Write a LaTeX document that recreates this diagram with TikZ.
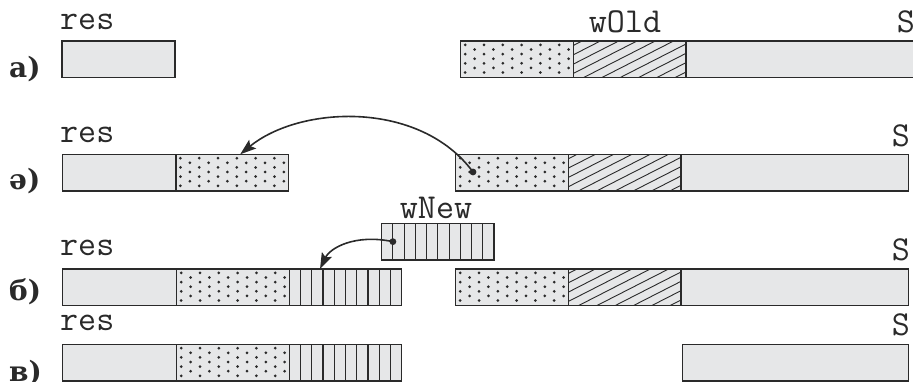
\documentclass[tikz,border=0pt]{standalone}
\usepackage{fontspec}
\newfontfamily\labelfont{DejaVu Serif}
\usetikzlibrary{calc,arrows.meta}

\definecolor{segfill}{HTML}{E6E7E8}
\definecolor{ink}{HTML}{2A2A2A}

\tikzset{
  seg/.style={rectangle, draw=ink, fill=segfill, line width=1.2pt,
    inner sep=0pt, outer sep=0pt, anchor=north west,
    minimum height=36.7pt, minimum width=#1},
  seg/.default=112.6pt,
  % staggered dot texture
  dotseg/.style={seg=#1, path picture={
      \foreach \c in {0,2,...,10}{
        \foreach \r in {0,...,3}
          \fill[ink] ($(path picture bounding box.north west)+(4.5+9.4*\c,3.9+9.2*\r)$) circle (1.5pt);}
      \foreach \c in {1,3,...,11}{
        \foreach \r in {0,...,2}
          \fill[ink] ($(path picture bounding box.north west)+(4.5+9.4*\c,8.5+9.2*\r)$) circle (1.5pt);}
    }},
  dotseg/.default=112.6pt,
  % diagonal hatching
  hatchseg/.style={seg=#1, path picture={
      \foreach \k in {-4,...,6}
        \draw[ink, line width=0.9pt] ($(path picture bounding box.south west)+(10+18.3*\k,0)$) -- ++(72,-36.7);
    }},
  hatchseg/.default=112.6pt,
  % vertical stripes
  stripeseg/.style={seg=#1, path picture={
      \foreach \k in {1,...,9}
        \draw[ink, line width=1.1pt] ($(path picture bounding box.north west)+(11.24*\k,0)$) -- ++(0,36.7);
    }},
  stripeseg/.default=112.4pt,
  varname/.style={font=\ttfamily\fontsize{35}{35}\selectfont, inner sep=0pt, text=ink},
  rowlabel/.style={font=\labelfont\bfseries\fontsize{28}{28}\selectfont, inner sep=0pt, anchor=base west, text=ink},
  link/.style={draw=ink, line width=1.6pt, -{Stealth[length=16pt,width=11pt,inset=3pt]}},
  srcdot/.style={fill=ink},
}

\begin{document}
\begin{tikzpicture}[x=1pt, y=-1pt]
\useasboundingbox (0,0) rectangle (913,382);

% ---- row a: the starting state
\node[rowlabel] (la) at (9,78) {а)};
\node[varname, anchor=base west] (resa) at (60,30) {res};
\node[seg=113pt] (ga) at (62,41) {};
\node[dotseg] (da) at (460.7,41) {};
\node[hatchseg] (ha) at (da.north east) {};
\node[seg=227.2pt] (sa) at (ha.north east) {};
\node[varname, anchor=base] (wold) at (625,33) {wOld};
\node[varname, anchor=base east] (Sa) at (915,33) {S};

% ---- row ә: prefix copied into res
\node[rowlabel] (lb) at (9,190) {ә)};
\node[varname, anchor=base west] (resb) at (60,143) {res};
\node[seg=113.6pt] (gb) at (62.3,154.3) {};
\node[dotseg] (db) at (gb.north east) {};
\node[dotseg] (dbr) at (455.7,154.3) {};
\node[hatchseg] (hb) at (dbr.north east) {};
\node[seg=227.4pt] (sb) at (hb.north east) {};
\node[varname, anchor=base east] (Sb) at (910,147) {S};
\coordinate (srcb) at ($(dbr.north west)+(17.3,17.7)$);
\coordinate (dstb) at ($(db.north west)+(64.3,0)$);
\draw[link] (srcb) .. controls +(-53,-72) and +(60,-49) .. (dstb);
\fill[srcdot] (srcb) circle (3.4pt);

% ---- row б: wNew appended to res
\node[rowlabel] (lc) at (9,300) {б)};
\node[varname, anchor=base west] (resc) at (60,255) {res};
\node[seg=114.4pt] (gc) at (62.3,269) {};
\node[dotseg] (dc) at (gc.north east) {};
\node[stripeseg] (tc) at (dc.north east) {};
\node[stripeseg=112.3pt] (wn) at (381.7,223.3) {};
\node[varname, anchor=base] (wnew) at (436,219) {wNew};
\node[dotseg] (dcr) at (455.7,269) {};
\node[hatchseg] (hc) at (dcr.north east) {};
\node[seg=227.4pt] (sc) at (hc.north east) {};
\node[varname, anchor=base east] (Sc) at (910,260) {S};
\coordinate (srcc) at ($(wn.west)+(11.2,0)$);
\coordinate (dstc) at ($(tc.north west)+(30.7,0)$);
\draw[link] (srcc) .. controls +(-38,-8) and +(10,-21) .. (dstc);
\fill[srcdot] (srcc) circle (3.4pt);

% ---- row в: the result
\node[rowlabel] (ld) at (9,381) {в)};
\node[varname, anchor=base west] (resd) at (60,330.5) {res};
\node[seg=114.4pt] (gd) at (62.3,344.3) {};
\node[dotseg] (dd) at (gd.north east) {};
\node[stripeseg] (td) at (dd.north east) {};
\node[seg=225.5pt] (sd) at (682.7,344.3) {};
\node[varname, anchor=base east] (Sd) at (910,335) {S};
\end{tikzpicture}
\end{document}
